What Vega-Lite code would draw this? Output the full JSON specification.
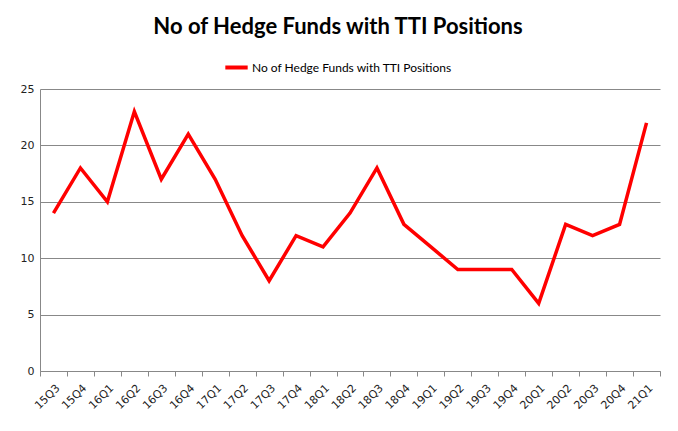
{
  "$schema": "https://vega.github.io/schema/vega-lite/v6.json",
  "width": 620,
  "height": 282,
  "autosize": "none",
  "padding": {"left": 40, "top": 89, "right": 18, "bottom": 60},
  "background": "white",
  "title": {
    "text": "No of Hedge Funds with TTI Positions",
    "font": "Lato",
    "fontSize": 22,
    "fontWeight": "bold",
    "color": "#000000",
    "anchor": "middle",
    "dx": -12,
    "offset": 15
  },
  "data": {
    "values": [
      {"q": "15Q3", "v": 14}, {"q": "15Q4", "v": 18}, {"q": "16Q1", "v": 15},
      {"q": "16Q2", "v": 23}, {"q": "16Q3", "v": 17}, {"q": "16Q4", "v": 21},
      {"q": "17Q1", "v": 17}, {"q": "17Q2", "v": 12}, {"q": "17Q3", "v": 8},
      {"q": "17Q4", "v": 12}, {"q": "18Q1", "v": 11}, {"q": "18Q2", "v": 14},
      {"q": "18Q3", "v": 18}, {"q": "18Q4", "v": 13}, {"q": "19Q1", "v": 11},
      {"q": "19Q2", "v": 9}, {"q": "19Q3", "v": 9}, {"q": "19Q4", "v": 9},
      {"q": "20Q1", "v": 6}, {"q": "20Q2", "v": 13}, {"q": "20Q3", "v": 12},
      {"q": "20Q4", "v": 13}, {"q": "21Q1", "v": 22}
    ]
  },
  "mark": {"type": "line", "strokeWidth": 3.5, "color": "#FF0000"},
  "encoding": {
    "x": {
      "field": "q",
      "type": "ordinal",
      "sort": null,
      "scale": {"paddingInner": 0, "paddingOuter": 0},
      "axis": {
        "title": null,
        "labelAngle": -45,
        "labelAlign": "right",
        "labelBaseline": "top",
        "labelFont": "DejaVu Sans",
        "labelFontSize": 11,
        "labelColor": "#222222",
        "labelPadding": 6,
        "tickBand": "extent",
        "tickSize": 5,
        "tickColor": "#888888",
        "domainColor": "#888888",
        "grid": false
      }
    },
    "y": {
      "field": "v",
      "type": "quantitative",
      "scale": {"domain": [0, 25]},
      "axis": {
        "title": null,
        "values": [0, 5, 10, 15, 20, 25],
        "labelFont": "DejaVu Sans",
        "labelFontSize": 11,
        "labelColor": "#222222",
        "labelPadding": 6,
        "ticks": false,
        "domainColor": "#888888",
        "gridColor": "#888888",
        "gridWidth": 1
      }
    },
    "color": {
      "datum": "No of Hedge Funds with TTI Positions",
      "scale": {"range": ["#FF0000"]},
      "legend": {
        "orient": "none",
        "legendX": 183,
        "legendY": -35,
        "title": null,
        "symbolType": "stroke",
        "symbolStrokeWidth": 4,
        "symbolSize": 500,
        "labelFont": "Lato",
        "labelFontSize": 12,
        "labelLimit": 0,
        "labelOffset": 2,
        "labelColor": "#000000"
      }
    }
  },
  "config": {"view": {"stroke": null}}
}
